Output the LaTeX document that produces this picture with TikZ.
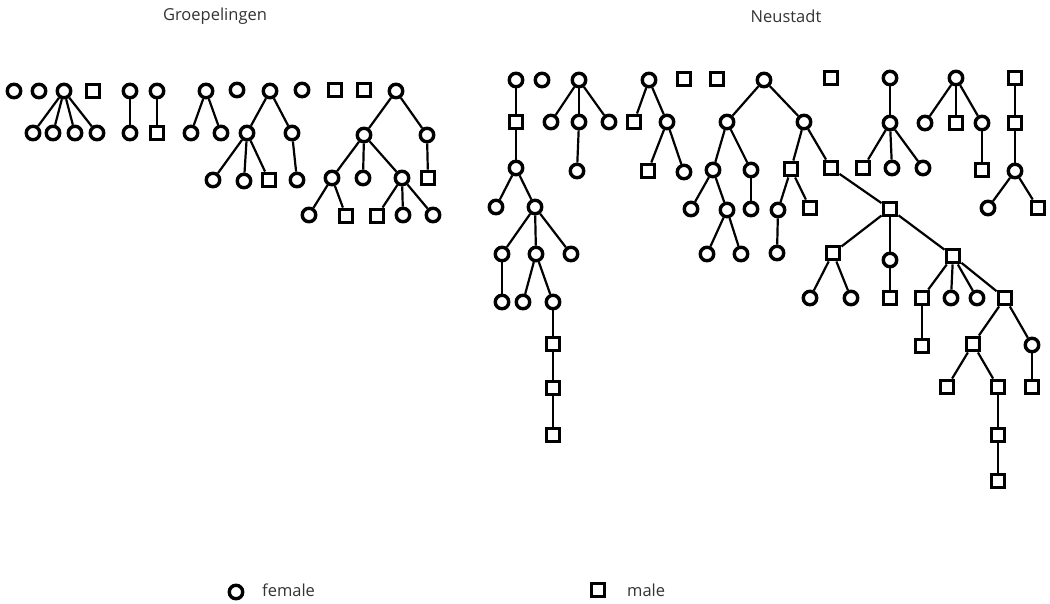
\documentclass[tikz,border=0pt]{standalone}
\usepackage{fontspec}
\setmainfont{Open Sans}
\begin{document}
\begin{tikzpicture}[x=1pt,y=-1pt,
  fem/.style={circle,draw=black,line width=3.4pt,minimum size=13.5pt,inner sep=0pt,fill=white},
  mal/.style={rectangle,draw=black,line width=3.4pt,minimum size=13.5pt,inner sep=0pt,fill=white},
  edge/.style={line width=2.2pt,black},
  lbl/.style={text=black!80,font=\fontsize{16.5}{18}\selectfont,inner sep=0pt}]
\useasboundingbox (0,0) rectangle (1050,603);
\node[lbl] (t1) at (215,16) {Groepelingen};
\node[lbl] (t2) at (786,16) {Neustadt};
% ---------- Groepelingen ----------
\node[fem] (g1) at (14,91) {};
\node[fem] (g2) at (39,91) {};
\node[fem] (g3) at (64,91) {};
\node[fem] (g3a) at (33,133) {};
\node[fem] (g3b) at (53,133) {};
\node[fem] (g3c) at (75,133) {};
\node[fem] (g3d) at (97,133) {};
\node[mal] (g4) at (93,91) {};
\node[fem] (g5) at (130,91) {};
\node[fem] (g5a) at (130,133) {};
\node[fem] (g6) at (157,91) {};
\node[mal] (g6a) at (157,133) {};
\node[fem] (g7) at (206,91) {};
\node[fem] (g7a) at (191,133) {};
\node[fem] (g7b) at (221,133) {};
\node[fem] (g8) at (237,90) {};
\node[fem] (g9) at (270,91) {};
\node[fem] (g9a) at (247,133) {};
\node[fem] (g9b) at (292,133) {};
\node[fem] (g9aa) at (213,180) {};
\node[fem] (g9ab) at (244,181) {};
\node[mal] (g9ac) at (269,180) {};
\node[fem] (g9ba) at (297,180) {};
\node[fem] (g10) at (302,90) {};
\node[mal] (g11) at (335,90) {};
\node[mal] (g12) at (364,90) {};
\node[fem] (g13) at (396,91) {};
\node[fem] (g13a) at (364,135) {};
\node[fem] (g13b) at (427,135) {};
\node[fem] (g13aa) at (332,178) {};
\node[fem] (g13ab) at (363,178) {};
\node[fem] (g13ac) at (402,178) {};
\node[mal] (g13ba) at (428,178) {};
\node[fem] (g13aaa) at (309,215) {};
\node[mal] (g13aab) at (346,216) {};
\node[mal] (g13aca) at (377,216) {};
\node[fem] (g13acb) at (403,215) {};
\node[fem] (g13acc) at (433,215) {};
% ---------- Neustadt ----------
\node[fem] (n1) at (516,80) {};
\node[mal] (n1a) at (516,122) {};
\node[fem] (n1b) at (516,168) {};
\node[fem] (n1c) at (496,207) {};
\node[fem] (n1d) at (535,207) {};
\node[fem] (n1e) at (502,254) {};
\node[fem] (n1f) at (536,254) {};
\node[fem] (n1g) at (571,254) {};
\node[fem] (n1h) at (502,302) {};
\node[fem] (n1i) at (523,302) {};
\node[fem] (n1j) at (553,302) {};
\node[mal] (n1k) at (553,344) {};
\node[mal] (n1l) at (553,388) {};
\node[mal] (n1m) at (553,435) {};
\node[fem] (n2) at (542,80) {};
\node[fem] (n3) at (579,80) {};
\node[fem] (n3a) at (551,122) {};
\node[fem] (n3b) at (579,122) {};
\node[fem] (n3c) at (609,122) {};
\node[fem] (n3d) at (577,171) {};
\node[fem] (n4) at (649,80) {};
\node[mal] (n4a) at (634,122) {};
\node[fem] (n4b) at (667,122) {};
\node[mal] (n4c) at (648,171) {};
\node[fem] (n4d) at (684,172) {};
\node[mal] (n5) at (684,79) {};
\node[mal] (n6) at (717,79) {};
\node[fem] (n7) at (764,80) {};
\node[fem] (n7a) at (727,122) {};
\node[fem] (n7b) at (804,122) {};
\node[fem] (n7c) at (713,170) {};
\node[fem] (n7d) at (751,170) {};
\node[fem] (n7e) at (691,209) {};
\node[fem] (n7f) at (727,210) {};
\node[fem] (n7g) at (707,254) {};
\node[fem] (n7h) at (741,254) {};
\node[fem] (n7i) at (751,209) {};
\node[mal] (n7j) at (791,169) {};
\node[mal] (n7k) at (831,168) {};
\node[fem] (n7l) at (778,210) {};
\node[mal] (n7m) at (810,208) {};
\node[fem] (n7n) at (777,253) {};
\node[mal] (n7o) at (890,209) {};
\node[mal] (n7p) at (833,253) {};
\node[fem] (n7q) at (890,260) {};
\node[mal] (n7r) at (953,256) {};
\node[fem] (n7s) at (810,298) {};
\node[fem] (n7t) at (851,298) {};
\node[mal] (n7u) at (890,298) {};
\node[mal] (n7v) at (922,298) {};
\node[fem] (n7w) at (951,298) {};
\node[fem] (n7x) at (977,298) {};
\node[mal] (n7y) at (1005,298) {};
\node[mal] (n7z) at (922,346) {};
\node[mal] (n7aa) at (973,344) {};
\node[fem] (n7ab) at (1032,345) {};
\node[mal] (n7ac) at (947,387) {};
\node[mal] (n7ad) at (998,387) {};
\node[mal] (n7ae) at (998,435) {};
\node[mal] (n7af) at (998,481) {};
\node[mal] (n7ag) at (1032,387) {};
\node[mal] (n8) at (831,78) {};
\node[fem] (n9) at (890,78) {};
\node[fem] (n9a) at (890,123) {};
\node[mal] (n9b) at (863,168) {};
\node[fem] (n9c) at (892,168) {};
\node[fem] (n9d) at (923,168) {};
\node[fem] (n10) at (956,78) {};
\node[fem] (n10a) at (925,123) {};
\node[mal] (n10b) at (956,123) {};
\node[fem] (n10c) at (982,123) {};
\node[mal] (n10d) at (982,170) {};
\node[mal] (n11) at (1015,78) {};
\node[mal] (n11a) at (1015,123) {};
\node[fem] (n11b) at (1015,171) {};
\node[fem] (n11c) at (988,208) {};
\node[mal] (n11d) at (1038,208) {};
% ---------- edges ----------
\foreach \a/\b in {g3/g3a,g3/g3b,g3/g3c,g3/g3d,g5/g5a,g6/g6a,g7/g7a,g7/g7b,
  g9/g9a,g9/g9b,g9a/g9aa,g9a/g9ab,g9a/g9ac,g9b/g9ba,
  g13/g13a,g13/g13b,g13a/g13aa,g13a/g13ab,g13a/g13ac,g13b/g13ba,
  g13aa/g13aaa,g13aa/g13aab,g13ac/g13aca,g13ac/g13acb,g13ac/g13acc,
  n1/n1a,n1a/n1b,n1b/n1c,n1b/n1d,n1d/n1e,n1d/n1f,n1d/n1g,n1e/n1h,n1f/n1i,n1f/n1j,
  n1j/n1k,n1k/n1l,n1l/n1m,
  n3/n3a,n3/n3b,n3/n3c,n3b/n3d,n4/n4a,n4/n4b,n4b/n4c,n4b/n4d,
  n7/n7a,n7/n7b,n7a/n7c,n7a/n7d,n7c/n7e,n7c/n7f,n7f/n7g,n7f/n7h,n7d/n7i,
  n7b/n7j,n7b/n7k,n7j/n7l,n7j/n7m,n7l/n7n,n7k/n7o,
  n7o/n7p,n7o/n7q,n7o/n7r,n7p/n7s,n7p/n7t,n7q/n7u,
  n7r/n7v,n7r/n7w,n7r/n7x,n7r/n7y,n7v/n7z,n7y/n7aa,n7y/n7ab,
  n7aa/n7ac,n7aa/n7ad,n7ad/n7ae,n7ae/n7af,n7ab/n7ag,
  n9/n9a,n9a/n9b,n9a/n9c,n9a/n9d,
  n10/n10a,n10/n10b,n10/n10c,n10c/n10d,
  n11/n11a,n11a/n11b,n11b/n11c,n11b/n11d}
  \draw[edge] (\a) -- (\b);
% ---------- legend ----------
\node[fem] (lf) at (236,592) {};
\node[lbl,anchor=west] (lft) at (262,590) {female};
\node[mal] (lm) at (598,590) {};
\node[lbl,anchor=west] (lmt) at (627,590) {male};
\end{tikzpicture}
\end{document}
